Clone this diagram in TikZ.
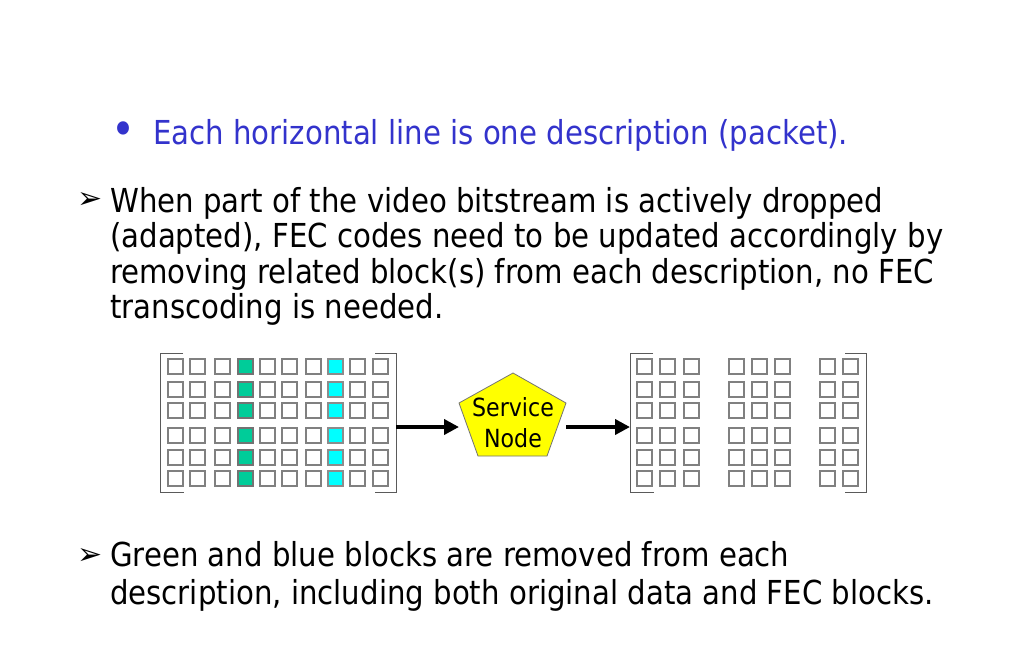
\documentclass[tikz,border=0pt]{standalone}
\usepackage{fontspec}
\setmainfont{DejaVu Sans}[FakeStretch=0.885]
\newfontfamily\symfont{DejaVu Sans}
\usetikzlibrary{arrows.meta}
\definecolor{subblue}{RGB}{51,51,204}
\definecolor{grn}{RGB}{0,204,153}
\definecolor{cyn}{RGB}{0,255,255}
\definecolor{sqgray}{RGB}{128,128,128}
\definecolor{brgray}{RGB}{90,90,90}
\definecolor{penyel}{RGB}{255,255,0}
\begin{document}
\begin{tikzpicture}[x=1pt,y=-1pt,
 txt/.style={anchor=base west, inner sep=0pt, font=\fontsize{33}{38}\selectfont},
 subtxt/.style={anchor=base west, inner sep=0pt, font=\fontsize{33}{38}\selectfont, text=subblue},
 bulletmark/.style={anchor=center, inner sep=0pt, font=\symfont\fontsize{30}{32}\selectfont},
 sq/.style={draw=sqgray, line width=1.3pt},
 bracket/.style={draw=brgray, line width=1pt},
 flow/.style={line width=4pt, -{Triangle[length=15pt,width=15pt]}},
]
\useasboundingbox[fill=white] (0,0) rectangle (1024,662);
% texts
\node[anchor=center, inner sep=0pt, text=subblue, font=\fontsize{46}{50}\selectfont] (sb) at (124,134) {•};
\node[subtxt] (s1) at (153,144) {Each horizontal line is one description (packet).};
\node[bulletmark] (m0) at (90,200) {➢};
\node[txt] (m1) at (110,212) {When part of the video bitstream is actively dropped};
\node[txt] (m2) at (110,247) {(adapted), FEC codes need to be updated accordingly by};
\node[txt] (m3) at (110,283) {removing related block(s) from each description, no FEC};
\node[txt] (m4) at (110,318) {transcoding is needed.};
\node[bulletmark] (g0) at (90,556) {➢};
\node[txt] (g1) at (110,566) {Green and blue blocks are removed from each};
\node[txt] (g2) at (110,604) {description, including both original data and FEC blocks.};
% grids
\foreach \r in {359,382,403,428,450,471}{
  \foreach \x/\c/\d in {168/white/sqgray,190/white/sqgray,215/white/sqgray,238/grn/black!55,260/white/sqgray,282/white/sqgray,306/white/sqgray,328/cyn/black!45,350/white/sqgray,373/white/sqgray}{
    \filldraw[sq, fill=\c, draw=\d] (\x,\r) rectangle ++(15,15);
  }
  \foreach \x in {637,660,684,729,752,775,820,843}{
    \draw[sq] (\x,\r) rectangle ++(15,15);
  }
}
\draw[bracket] (183,353) -- (160,353) -- (160,492) -- (184,492);
\draw[bracket] (375,353) -- (396,353) -- (396,492) -- (375,492);
\draw[bracket] (653,353) -- (630,353) -- (630,492) -- (654,492);
\draw[bracket] (845,353) -- (866,353) -- (866,492) -- (845,492);
% service node
\filldraw[fill=penyel, draw=black!55, line width=0.8pt] (513,373) -- (566,403) -- (547,456) -- (478,456) -- (459,403) -- cycle;
\node[inner sep=0pt, align=center, font=\fontsize{25}{31}\selectfont] (sn) at (513,423) {Service\\Node};
\coordinate (lgE) at (396,427);
\coordinate (snW) at (459,427);
\coordinate (snE) at (566,427);
\coordinate (rgW) at (630,427);
\draw[flow] (lgE) -- (snW);
\draw[flow] (snE) -- (rgW);
\end{tikzpicture}
\end{document}
